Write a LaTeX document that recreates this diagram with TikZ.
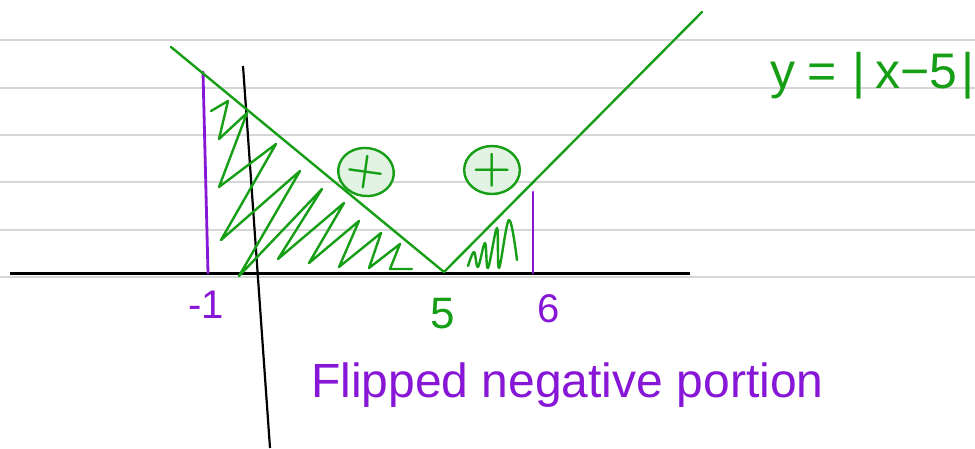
\documentclass[tikz,border=0pt]{standalone}
\usepackage{fontspec}
\newfontfamily\hand{Liberation Sans}
\usetikzlibrary{shapes.geometric}
\definecolor{pen}{RGB}{22,158,22}
\definecolor{vio}{RGB}{135,22,215}
\definecolor{rulegray}{RGB}{214,214,214}
\tikzset{
  ruleline/.style={rulegray,line width=1.4pt},
  greenline/.style={pen,line width=2.4pt,line cap=round,line join=round},
  violine/.style={vio,line width=2.8pt,line cap=round},
  plusbubble/.style={ellipse,draw=pen,fill=pen!12,line width=2.4pt,inner sep=0pt,
     minimum width=52pt,minimum height=48pt,font=\bfseries\fontsize{45}{45}\selectfont,text=pen},
  vlabel/.style={vio,font=\hand\fontsize{40}{40}\selectfont},
}
\begin{document}
\begin{tikzpicture}[x=1pt,y=-1pt]
\fill[white] (0,0) rectangle (975,448);
\useasboundingbox (0,0) rectangle (975,448);
% ruled paper
\foreach \yy in {40,88,135,182,230,277} \draw[ruleline] (0,\yy) -- (975,\yy);
% axes
\coordinate (ax1) at (10,273);
\coordinate (ax2) at (690,273);
\coordinate (ya1) at (243,66);
\coordinate (ya2) at (270,448);
\draw[black,line width=3pt] (ax1) -- (ax2);
\draw[black,line width=2.2pt] (ya1) -- (ya2);
% bounds
\coordinate (m1t) at (203,72);
\coordinate (m1b) at (208,273);
\coordinate (s6t) at (533,192);
\coordinate (s6b) at (533,273);
\draw[violine] (m1t) -- (m1b);
\draw[violine] (s6t) -- (s6b);
% hatching of the left region
\draw[greenline] plot coordinates {(211,111) (228,101) (219,139) (247,113) (219,187) (276,144)
  (221,240) (300,171) (239,276) (322,189) (278,259) (344,203) (309,263) (359,221)
  (339,267) (381,233) (369,268) (400,244) (390,269) (412,269)};
% scribble of the right region
\draw[greenline] plot[smooth,tension=0.6] coordinates {(468,266) (474,252) (478,267) (485,243)
  (488,268) (497,228) (499,268) (509,220) (517,260)};
% graph y=|x-5|
\coordinate (vl) at (171,47);
\coordinate (v0) at (444,272);
\coordinate (vr) at (702,12);
\draw[greenline] (vl) -- (v0) -- (vr);
% plus signs
\node[plusbubble,rotate=-8] (plusL) at (366,172) {+};
\node[plusbubble] (plusR) at (492,170) {+};
% labels
\node[vlabel,anchor=base] (lm1) at (206,318) {-1};
\node[pen,font=\hand\fontsize{44}{44}\selectfont,anchor=base] (l5) at (443,328) {5};
\node[vlabel,anchor=base] (l6) at (549,322) {6};
\node[vio,font=\hand\fontsize{48}{48}\selectfont,anchor=base west,inner sep=0pt] (note) at (311,397) {Flipped negative portion};
\node[pen,font=\hand\fontsize{50}{50}\selectfont,anchor=base west,inner sep=0pt] (eq) at (770,88)
  {y\hspace{12pt}=\hspace{16pt}|\hspace{10pt}x−5\hspace{4pt}|};
\end{tikzpicture}
\end{document}
